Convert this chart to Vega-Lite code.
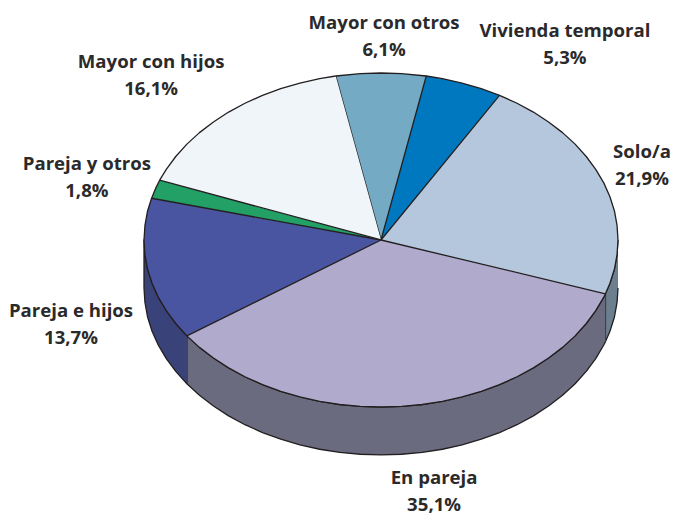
{
"$schema":"https://vega.github.io/schema/vega-lite/v6.json",
"width":679,"height":516,"autosize":"none","padding":0,
"background":"white",
"config":{"view":{"stroke":null}},
"datasets":{
"shapes":[
{"p":"a","o":1,"x":1,"y":0},{"p":"a","o":2,"x":0.996,"y":-0.087},{"p":"a","o":3,"x":0.985,"y":-0.174},{"p":"a","o":4,"x":0.966,"y":-0.259},{"p":"a","o":5,"x":0.947,"y":-0.322},{"p":"a","o":6,"x":0.947,"y":-0.609},{"p":"a","o":7,"x":0.966,"y":-0.546},{"p":"a","o":8,"x":0.985,"y":-0.461},{"p":"a","o":9,"x":0.996,"y":-0.374},{"p":"a","o":10,"x":1,"y":-0.287},

{"p":"b","o":1,"x":0.947,"y":-0.322},{"p":"b","o":2,"x":0.94,"y":-0.342},{"p":"b","o":3,"x":0.906,"y":-0.423},{"p":"b","o":4,"x":0.866,"y":-0.5},{"p":"b","o":5,"x":0.819,"y":-0.574},{"p":"b","o":6,"x":0.766,"y":-0.643},{"p":"b","o":7,"x":0.707,"y":-0.707},{"p":"b","o":8,"x":0.643,"y":-0.766},{"p":"b","o":9,"x":0.574,"y":-0.819},{"p":"b","o":10,"x":0.5,"y":-0.866},{"p":"b","o":11,"x":0.423,"y":-0.906},{"p":"b","o":12,"x":0.342,"y":-0.94},{"p":"b","o":13,"x":0.259,"y":-0.966},{"p":"b","o":14,"x":0.174,"y":-0.985},{"p":"b","o":15,"x":0.087,"y":-0.996},{"p":"b","o":16,"x":0,"y":-1},{"p":"b","o":17,"x":-0.087,"y":-0.996},{"p":"b","o":18,"x":-0.174,"y":-0.985},{"p":"b","o":19,"x":-0.259,"y":-0.966},{"p":"b","o":20,"x":-0.342,"y":-0.94},{"p":"b","o":21,"x":-0.423,"y":-0.906},{"p":"b","o":22,"x":-0.5,"y":-0.866},{"p":"b","o":23,"x":-0.574,"y":-0.819},{"p":"b","o":24,"x":-0.643,"y":-0.766},{"p":"b","o":25,"x":-0.707,"y":-0.707},{"p":"b","o":26,"x":-0.766,"y":-0.643},{"p":"b","o":27,"x":-0.819,"y":-0.574},
{"p":"b","o":28,"x":-0.819,"y":-0.861},{"p":"b","o":29,"x":-0.766,"y":-0.93},{"p":"b","o":30,"x":-0.707,"y":-0.994},{"p":"b","o":31,"x":-0.643,"y":-1.053},{"p":"b","o":32,"x":-0.574,"y":-1.106},{"p":"b","o":33,"x":-0.5,"y":-1.153},{"p":"b","o":34,"x":-0.423,"y":-1.193},{"p":"b","o":35,"x":-0.342,"y":-1.227},{"p":"b","o":36,"x":-0.259,"y":-1.253},{"p":"b","o":37,"x":-0.174,"y":-1.272},{"p":"b","o":38,"x":-0.087,"y":-1.283},{"p":"b","o":39,"x":0,"y":-1.287},{"p":"b","o":40,"x":0.087,"y":-1.283},{"p":"b","o":41,"x":0.174,"y":-1.272},{"p":"b","o":42,"x":0.259,"y":-1.253},{"p":"b","o":43,"x":0.342,"y":-1.227},{"p":"b","o":44,"x":0.423,"y":-1.193},{"p":"b","o":45,"x":0.5,"y":-1.153},{"p":"b","o":46,"x":0.574,"y":-1.106},{"p":"b","o":47,"x":0.643,"y":-1.053},{"p":"b","o":48,"x":0.707,"y":-0.994},{"p":"b","o":49,"x":0.766,"y":-0.93},{"p":"b","o":50,"x":0.819,"y":-0.861},{"p":"b","o":51,"x":0.866,"y":-0.787},{"p":"b","o":52,"x":0.906,"y":-0.71},{"p":"b","o":53,"x":0.94,"y":-0.629},{"p":"b","o":54,"x":0.947,"y":-0.609},

{"p":"c","o":1,"x":-0.819,"y":-0.574},{"p":"c","o":2,"x":-0.866,"y":-0.5},{"p":"c","o":3,"x":-0.906,"y":-0.423},{"p":"c","o":4,"x":-0.94,"y":-0.342},{"p":"c","o":5,"x":-0.966,"y":-0.259},{"p":"c","o":6,"x":-0.985,"y":-0.174},{"p":"c","o":7,"x":-0.996,"y":-0.087},{"p":"c","o":8,"x":-1,"y":0},{"p":"c","o":9,"x":-1,"y":-0.287},{"p":"c","o":10,"x":-0.996,"y":-0.374},{"p":"c","o":11,"x":-0.985,"y":-0.461},{"p":"c","o":12,"x":-0.966,"y":-0.546},{"p":"c","o":13,"x":-0.94,"y":-0.629},{"p":"c","o":14,"x":-0.906,"y":-0.71},{"p":"c","o":15,"x":-0.866,"y":-0.787},{"p":"c","o":16,"x":-0.819,"y":-0.861},

{"p":"d","o":1,"x":0,"y":0},{"p":"d","o":2,"x":-0.191,"y":0.982},{"p":"d","o":3,"x":-0.087,"y":0.996},{"p":"d","o":4,"x":0,"y":1},{"p":"d","o":5,"x":0.087,"y":0.996},{"p":"d","o":6,"x":0.191,"y":0.982},

{"p":"e","o":1,"x":0,"y":0},{"p":"e","o":2,"x":0.191,"y":0.982},{"p":"e","o":3,"x":0.259,"y":0.966},{"p":"e","o":4,"x":0.342,"y":0.94},{"p":"e","o":5,"x":0.423,"y":0.906},{"p":"e","o":6,"x":0.5,"y":0.866},

{"p":"f","o":1,"x":0,"y":0},{"p":"f","o":2,"x":0.5,"y":0.866},{"p":"f","o":3,"x":0.574,"y":0.819},{"p":"f","o":4,"x":0.643,"y":0.766},{"p":"f","o":5,"x":0.707,"y":0.707},{"p":"f","o":6,"x":0.766,"y":0.643},{"p":"f","o":7,"x":0.819,"y":0.574},{"p":"f","o":8,"x":0.866,"y":0.5},{"p":"f","o":9,"x":0.906,"y":0.423},{"p":"f","o":10,"x":0.94,"y":0.342},{"p":"f","o":11,"x":0.966,"y":0.259},{"p":"f","o":12,"x":0.985,"y":0.174},{"p":"f","o":13,"x":0.996,"y":0.087},{"p":"f","o":14,"x":1,"y":0},{"p":"f","o":15,"x":0.996,"y":-0.087},{"p":"f","o":16,"x":0.985,"y":-0.174},{"p":"f","o":17,"x":0.966,"y":-0.259},{"p":"f","o":18,"x":0.947,"y":-0.322},

{"p":"g","o":1,"x":0,"y":0},{"p":"g","o":2,"x":0.947,"y":-0.322},{"p":"g","o":3,"x":0.94,"y":-0.342},{"p":"g","o":4,"x":0.906,"y":-0.423},{"p":"g","o":5,"x":0.866,"y":-0.5},{"p":"g","o":6,"x":0.819,"y":-0.574},{"p":"g","o":7,"x":0.766,"y":-0.643},{"p":"g","o":8,"x":0.707,"y":-0.707},{"p":"g","o":9,"x":0.643,"y":-0.766},{"p":"g","o":10,"x":0.574,"y":-0.819},{"p":"g","o":11,"x":0.5,"y":-0.866},{"p":"g","o":12,"x":0.423,"y":-0.906},{"p":"g","o":13,"x":0.342,"y":-0.94},{"p":"g","o":14,"x":0.259,"y":-0.966},{"p":"g","o":15,"x":0.174,"y":-0.985},{"p":"g","o":16,"x":0.087,"y":-0.996},{"p":"g","o":17,"x":0,"y":-1},{"p":"g","o":18,"x":-0.087,"y":-0.996},{"p":"g","o":19,"x":-0.174,"y":-0.985},{"p":"g","o":20,"x":-0.259,"y":-0.966},{"p":"g","o":21,"x":-0.342,"y":-0.94},{"p":"g","o":22,"x":-0.423,"y":-0.906},{"p":"g","o":23,"x":-0.5,"y":-0.866},{"p":"g","o":24,"x":-0.574,"y":-0.819},{"p":"g","o":25,"x":-0.643,"y":-0.766},{"p":"g","o":26,"x":-0.707,"y":-0.707},{"p":"g","o":27,"x":-0.766,"y":-0.643},{"p":"g","o":28,"x":-0.819,"y":-0.574},

{"p":"h","o":1,"x":0,"y":0},{"p":"h","o":2,"x":-0.819,"y":-0.574},{"p":"h","o":3,"x":-0.866,"y":-0.5},{"p":"h","o":4,"x":-0.906,"y":-0.423},{"p":"h","o":5,"x":-0.94,"y":-0.342},{"p":"h","o":6,"x":-0.966,"y":-0.259},{"p":"h","o":7,"x":-0.985,"y":-0.174},{"p":"h","o":8,"x":-0.996,"y":-0.087},{"p":"h","o":9,"x":-1,"y":0},{"p":"h","o":10,"x":-0.996,"y":0.087},{"p":"h","o":11,"x":-0.985,"y":0.174},{"p":"h","o":12,"x":-0.968,"y":0.25},

{"p":"i","o":1,"x":0,"y":0},{"p":"i","o":2,"x":-0.968,"y":0.25},{"p":"i","o":3,"x":-0.951,"y":0.309},{"p":"i","o":4,"x":-0.934,"y":0.358},

{"p":"j","o":1,"x":0,"y":0},{"p":"j","o":2,"x":-0.934,"y":0.358},{"p":"j","o":3,"x":-0.906,"y":0.423},{"p":"j","o":4,"x":-0.866,"y":0.5},{"p":"j","o":5,"x":-0.819,"y":0.574},{"p":"j","o":6,"x":-0.766,"y":0.643},{"p":"j","o":7,"x":-0.707,"y":0.707},{"p":"j","o":8,"x":-0.643,"y":0.766},{"p":"j","o":9,"x":-0.574,"y":0.819},{"p":"j","o":10,"x":-0.5,"y":0.866},{"p":"j","o":11,"x":-0.423,"y":0.906},{"p":"j","o":12,"x":-0.342,"y":0.94},{"p":"j","o":13,"x":-0.259,"y":0.966},{"p":"j","o":14,"x":-0.191,"y":0.982}
],
"labels":[
{"t":"Mayor con otros\n6,1%","x":0.013,"y":1.299},
{"t":"Vivienda temporal\n5,3%","x":0.776,"y":1.251},
{"t":"Mayor con hijos\n16,1%","x":-0.97,"y":1.066},
{"t":"Pareja y otros\n1,8%","x":-1.241,"y":0.455},
{"t":"Solo/a\n21,9%","x":1.101,"y":0.527},
{"t":"Pareja e hijos\n13,7%","x":-1.308,"y":-0.425},
{"t":"En pareja\n35,1%","x":0.224,"y":-1.425}
]},
"layer":[
{"data":{"name":"shapes"},
"mark":{"type":"line","filled":true,"stroke":"#231f20","strokeWidth":1.3,"strokeJoin":"round"},
"encoding":{
"x":{"field":"x","type":"quantitative","axis":null,"scale":{"domain":[-1.6076,1.2574],"nice":false,"zero":false}},
"y":{"field":"y","type":"quantitative","axis":null,"scale":{"domain":[-1.6527,1.4371],"nice":false,"zero":false}},
"order":{"field":"o","type":"quantitative"},
"fill":{"field":"p","type":"nominal","legend":null,"scale":{
"domain":["a","b","c","d","e","f","g","h","i","j"],
"range":["#6c7f8e","#6a6b7f","#3a4379","#74aac4","#0078bf","#b5c7dd","#b0aacd","#4a55a2","#22a066","#f0f5f9"]}}
}},
{"data":{"name":"labels"},
"mark":{"type":"text","font":"Open Sans","fontWeight":700,"fontSize":18.6,"lineBreak":"\n","lineHeight":27,"align":"center","baseline":"middle","fill":"#2b2a2b"},
"encoding":{
"x":{"field":"x","type":"quantitative"},
"y":{"field":"y","type":"quantitative"},
"text":{"field":"t","type":"nominal"}
}}
]
}
